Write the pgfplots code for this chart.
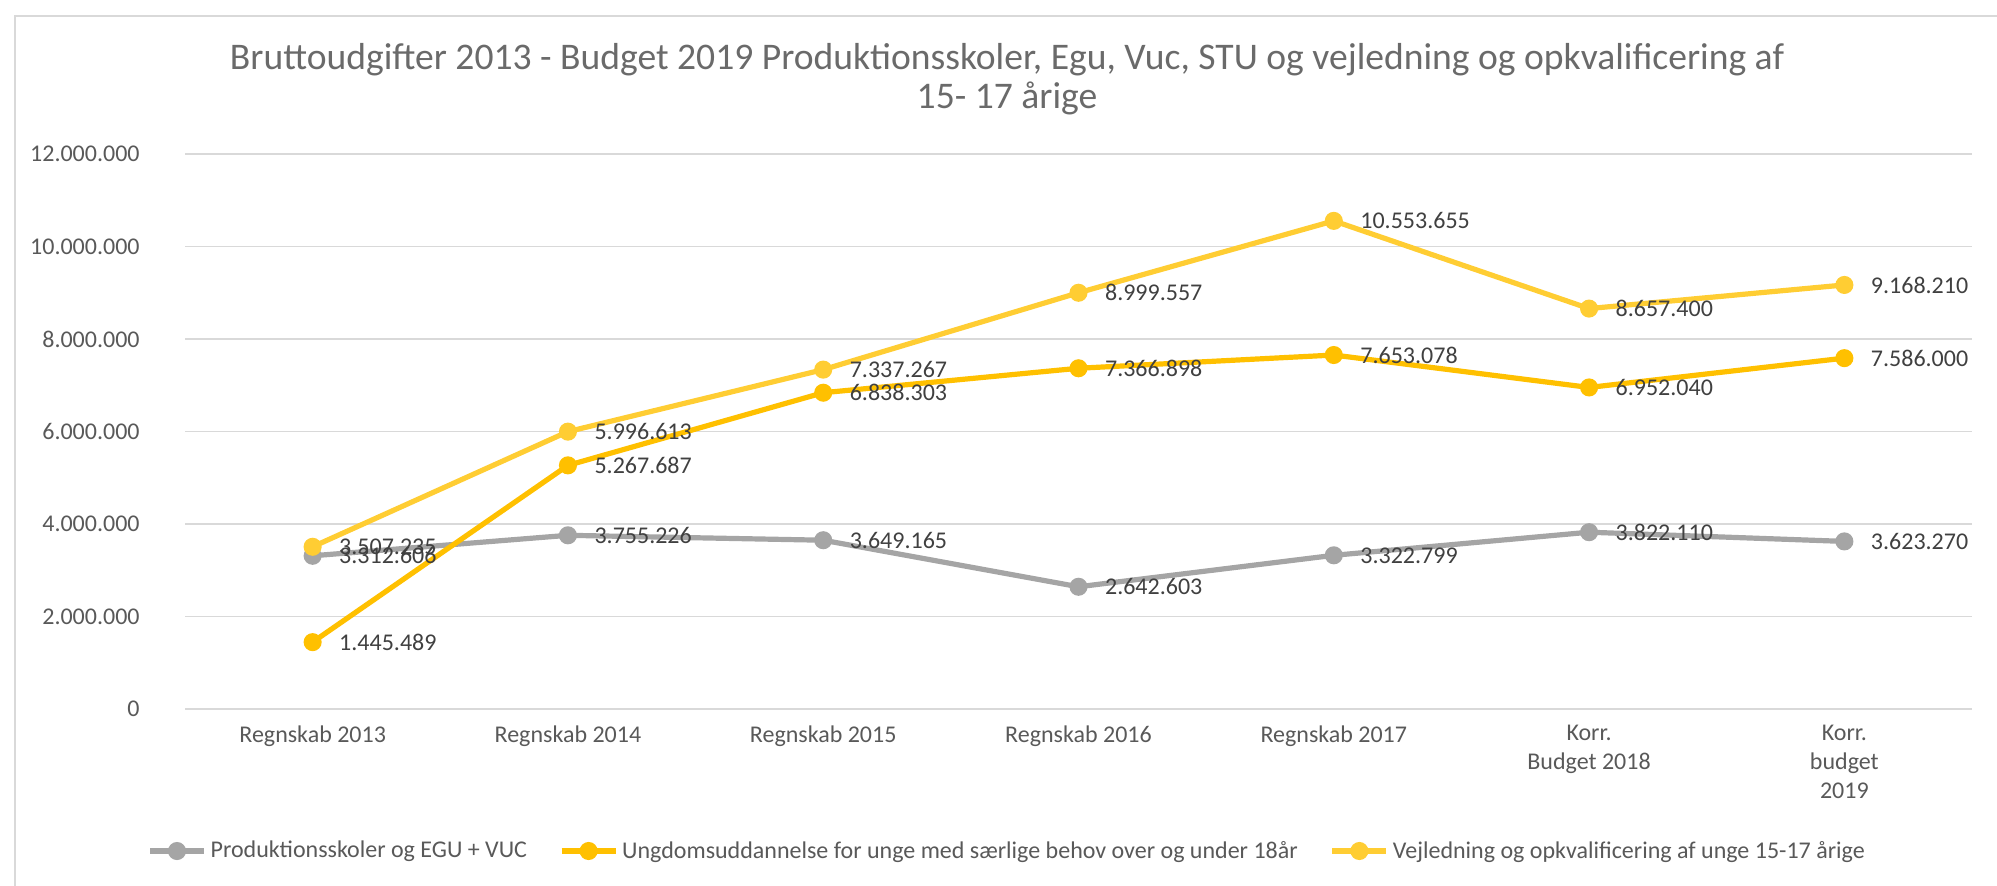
\documentclass[border=0pt]{standalone}
\usepackage{fontspec}
\setmainfont{Carlito}
\usepackage{pgfplots}
\usepackage{pgfplotstable}
\pgfplotsset{compat=1.18}
\definecolor{grayline}{HTML}{A5A5A5}
\definecolor{goldline}{HTML}{FFC000}
\definecolor{lightgold}{HTML}{FFCD33}
\definecolor{gridgray}{HTML}{D9D9D9}
\definecolor{txtgray}{HTML}{595959}
\definecolor{lblgray}{HTML}{404040}

% Produktionsskoler og EGU + VUC
\pgfplotstableread{
x y lab
0 3312606 3.312.606
1 3755226 3.755.226
2 3649165 3.649.165
3 2642603 2.642.603
4 3322799 3.322.799
5 3822110 3.822.110
6 3623270 3.623.270
}\prod
% Ungdomsuddannelse (STU)
\pgfplotstableread{
x y lab
0 1445489 1.445.489
1 5267687 5.267.687
2 6838303 6.838.303
3 7366898 7.366.898
4 7653078 7.653.078
5 6952040 6.952.040
6 7586000 7.586.000
}\stu
% Vejledning og opkvalificering
\pgfplotstableread{
x y lab
0 3507235 3.507.235
1 5996613 5.996.613
2 7337267 7.337.267
3 8999557 8.999.557
4 10553655 10.553.655
5 8657400 8.657.400
6 9168210 9.168.210
}\vej

\begin{document}
\begin{tikzpicture}
\path[use as bounding box] (0,0) rectangle (998.5pt,443pt);
\draw[gridgray, line width=1pt] (7.5pt,0) -- (7.5pt,435pt) -- (998.5pt,435pt);
\node[txtgray!90, font=\fontsize{18.8}{19.5}\selectfont, align=center] at (503.5pt,403.5pt)
  {Bruttoudgifter 2013 - Budget 2019 Produktionsskoler, Egu, Vuc, STU og vejledning og opkvalificering af\\15- 17 årige};
\begin{axis}[
  at={(92.5pt,88.5pt)}, anchor=south west,
  scale only axis, width=893.5pt, height=277.5pt,
  xmin=-0.5, xmax=6.5, ymin=0, ymax=12000000,
  xtick={0,...,6},
  xticklabels={Regnskab 2013, Regnskab 2014, Regnskab 2015, Regnskab 2016,
    Regnskab 2017, {Korr.\\Budget 2018}, {Korr.\\budget\\2019}},
  ytick={0,2000000,...,12000000},
  scaled y ticks=false,
  yticklabel style={/pgf/number format/fixed, /pgf/number format/precision=0,
    /pgf/number format/1000 sep={.}, /pgf/number format/assume math mode=true,
    anchor=east, inner sep=0pt, xshift=-22.5pt},
  xticklabel style={anchor=north, inner sep=0pt, yshift=-8pt, align=center},
  tick label style={font=\fontsize{12}{14.5}\selectfont, text=txtgray},
  major tick length=0pt,
  axis line style={draw=none},
  ymajorgrids, grid style={gridgray, line width=0.75pt},
  clip=false,
  point meta=explicit symbolic,
  nodes near coords,
  every node near coord/.append style={anchor=west, inner sep=0pt, xshift=12pt,
    font=\fontsize{12}{14.5}\selectfont, text=lblgray},
  every axis plot/.append style={line width=2.6pt, mark=*, mark size=3.2pt},
  legend columns=3,
  legend style={draw=none, at={(0.4606,-0.2559)}, anchor=center,
    font=\fontsize{12}{14.5}\selectfont, text=txtgray,
    /tikz/every even column/.append style={column sep=14pt}},
  legend image code/.code={\draw[mark repeat=2, mark phase=2, #1]
    plot coordinates {(0pt,0pt) (13.5pt,0pt) (27pt,0pt)};},
]
\addplot[grayline, mark options={fill=grayline}] table[x=x, y=y, meta=lab] {\prod};
\addplot[goldline, mark options={fill=goldline}] table[x=x, y=y, meta=lab] {\stu};
\addplot[lightgold, mark options={fill=lightgold}] table[x=x, y=y, meta=lab] {\vej};
\legend{Produktionsskoler og EGU + VUC,
  Ungdomsuddannelse for unge med særlige behov over og under 18år,
  Vejledning og opkvalificering af unge 15-17 årige}
\end{axis}
\end{tikzpicture}
\end{document}
